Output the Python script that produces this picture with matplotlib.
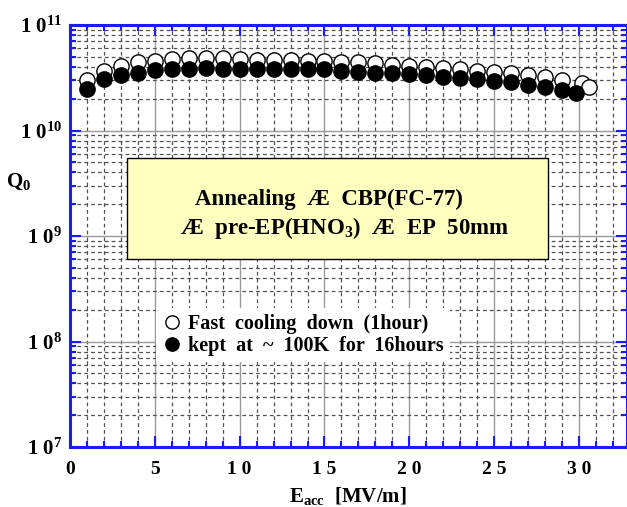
import matplotlib
matplotlib.use("Agg")
import matplotlib.pyplot as plt
from matplotlib.patches import Rectangle
from matplotlib.ticker import FixedLocator, FixedFormatter, MultipleLocator, LogLocator, NullFormatter

plt.rcParams['font.family'] = ['Liberation Serif', 'DejaVu Serif']
plt.rcParams['mathtext.fontset'] = 'custom'
plt.rcParams['mathtext.rm'] = 'Liberation Serif'
plt.rcParams['mathtext.bf'] = 'Liberation Serif:bold'
plt.rcParams['mathtext.it'] = 'Liberation Serif:italic'

# Data
eacc_fast = [1, 2, 3, 4, 5, 6, 7, 8, 9, 10, 11, 12, 13, 14, 15, 16, 17, 18, 19, 20,
             21, 22, 23, 24, 25, 26, 27, 28, 29, 30.2, 30.6]
q0_fast = [3.0e10, 3.69e10, 4.1e10, 4.5e10, 4.56e10, 4.73e10, 4.83e10, 4.9e10, 4.83e10, 4.73e10,
           4.66e10, 4.66e10, 4.66e10, 4.6e10, 4.56e10, 4.45e10, 4.43e10, 4.33e10, 4.18e10, 4.08e10,
           3.97e10, 3.89e10, 3.8e10, 3.69e10, 3.61e10, 3.48e10, 3.36e10, 3.24e10, 3.0e10, 2.8e10, 2.6e10]
eacc_slow = [1, 2, 3, 4, 5, 6, 7, 8, 9, 10, 11, 12, 13, 14, 15, 16, 17, 18, 19, 20,
             21, 22, 23, 24, 25, 26, 27, 28, 29, 29.8]
q0_slow = [2.5e10, 3.08e10, 3.36e10, 3.53e10, 3.72e10, 3.83e10, 3.83e10, 3.9e10, 3.85e10, 3.85e10,
           3.83e10, 3.83e10, 3.8e10, 3.8e10, 3.8e10, 3.68e10, 3.6e10, 3.53e10, 3.48e10, 3.43e10,
           3.33e10, 3.23e10, 3.13e10, 3.06e10, 2.94e10, 2.86e10, 2.7e10, 2.6e10, 2.42e10, 2.28e10]

xticks = [0, 5, 10, 15, 20, 25, 30]
xticklabels = ['0', '5', '1 0', '1 5', '2 0', '2 5', '3 0']
yticks = [1e7, 1e8, 1e9, 1e10, 1e11]
yticklabels = [r'$\mathbf{1\ 0^{7}}$', r'$\mathbf{1\ 0^{8}}$', r'$\mathbf{1\ 0^{9}}$',
               r'$\mathbf{1\ 0^{10}}$', r'$\mathbf{1\ 0^{11}}$']
label_fast = 'Fast  cooling  down  (1hour)'
label_slow = 'kept  at  ~  100K  for  16hours'
box_line1 = 'Annealing  Æ  CBP(FC-77)'
box_line2 = 'Æ  pre-EP(HNO$_\\mathbf{3}$)  Æ  EP  50mm'

W, H = 627, 507
fig = plt.figure(figsize=(W/100, H/100), dpi=100)
ax = fig.add_axes([70/W, 60/H, 556.5/W, 422/H])
ax.set_yscale('log')
ax.set_xlim(0, 32.8)
ax.set_ylim(1e7, 1e11)

blue = '#1a1aff'
for s in ax.spines.values():
    s.set_color(blue)
    s.set_linewidth(2.2)

ax.xaxis.set_major_locator(FixedLocator(xticks))
ax.xaxis.set_major_formatter(FixedFormatter(xticklabels))
ax.xaxis.set_minor_locator(MultipleLocator(1))
ax.yaxis.set_major_locator(FixedLocator(yticks))
ax.yaxis.set_major_formatter(FixedFormatter(yticklabels))
ax.yaxis.set_minor_locator(LogLocator(base=10, subs=range(2, 10), numticks=20))
ax.yaxis.set_minor_formatter(NullFormatter())

ax.tick_params(which='both', direction='in', color=blue, top=True, right=True, width=1.5)
ax.tick_params(which='major', length=8)
ax.tick_params(which='minor', length=4)
ax.tick_params(axis='x', which='major', pad=10)
ax.tick_params(axis='y', which='major', pad=6)
for lab in ax.get_xticklabels():
    lab.set_fontsize(14)
    lab.set_fontweight('bold')
for lab in ax.get_yticklabels():
    lab.set_fontsize(15)

ax.grid(True, which='major', color='#999999', linewidth=1.0, linestyle='-')
ax.grid(True, which='minor', color='#505050', linewidth=0.9, linestyle=(0, (3, 2.5)))
ax.set_axisbelow(True)

ax.plot(eacc_fast, q0_fast, 'o', markersize=11, markerfacecolor='white',
        markeredgecolor='black', markeredgewidth=1.0, label=label_fast, zorder=3)
ax.plot(eacc_slow, q0_slow, 'o', markersize=11, markerfacecolor='black',
        markeredgecolor='black', label=label_slow, zorder=4)

leg = ax.legend(loc='upper left', bbox_to_anchor=((156-70)/556.5, (447-308)/422), borderaxespad=0,
                frameon=True, fancybox=False, edgecolor='none', framealpha=1,
                prop={'family': 'Liberation Serif', 'weight': 'bold', 'size': 14.5},
                handlelength=1.0, handletextpad=0.3, labelspacing=0.1, borderpad=0.3,
                markerscale=0.87)

# annotation box
bx0, bx1, by0, by1 = 127, 548, 158, 259
fig.patches.append(Rectangle((bx0/W, 1 - by1/H), (bx1-bx0)/W, (by1-by0)/H,
                             transform=fig.transFigure, facecolor='#ffffc0',
                             edgecolor='black', linewidth=1.0, zorder=5))
fig.text(195/W, 1 - 199/H, box_line1, ha='left', va='center', fontsize=16.5,
         fontweight='bold', zorder=6)
fig.text(180/W, 1 - 228/H, box_line2, ha='left', va='center', fontsize=16.5,
         fontweight='bold', zorder=6)

fig.text(6/W, 1 - 182/H, r'$\mathbf{Q_0}$', fontsize=15, ha='left', va='center')
fig.text(348/W, 1 - 496/H, r'$\mathbf{E_{acc}}$  [MV/m]', fontsize=15, fontweight='bold',
         ha='center', va='center')

fig.savefig('out.png', dpi=100)
